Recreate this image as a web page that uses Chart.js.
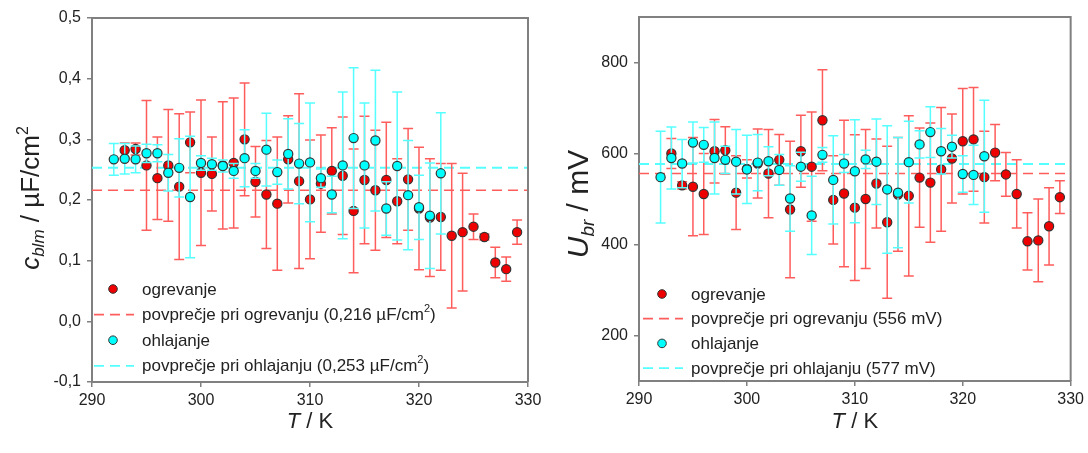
<!DOCTYPE html>
<html lang="sl">
<head>
  <meta charset="UTF-8">
  <title>ogrevanje / ohlajanje</title>
  <script src="https://cdn.jsdelivr.net/npm/chart.js"></script>
  <style>
    body { margin: 0; background: #fff; }
    #wrap { position: relative; width: 1088px; height: 453px; }
    canvas { position: absolute; top: 0; }
  </style>
</head>
<body>
  <div id="wrap">
    <canvas id="cChart" width="560" height="453" style="left:0"></canvas>
    <canvas id="uChart" width="528" height="453" style="left:560px"></canvas>
  </div>

  <script>
    // temperature (K)
    const heatT = [293, 294, 295, 296, 297, 298, 299, 300, 301, 302, 303, 304, 305, 306, 307, 308, 309, 310, 311,
                   312, 313, 314, 315, 316, 317, 318, 319, 320, 321, 322, 323, 324, 325, 326, 327, 328, 329];
    const coolT = [292, 293, 294, 295, 296, 297, 298, 299, 300, 301, 302, 303, 304, 305, 306, 307, 308, 309, 310,
                   311, 312, 313, 314, 315, 316, 317, 318, 319, 320, 321, 322];

    // c_blm (uF/cm2)
    const cHeat = [0.282, 0.284, 0.257, 0.236, 0.257, 0.222, 0.295, 0.245, 0.243, 0.257, 0.261, 0.300, 0.230, 0.209,
                   0.194, 0.267, 0.231, 0.201, 0.227, 0.248, 0.240, 0.182, 0.233, 0.216, 0.233, 0.198, 0.234, 0.186,
                   0.171, 0.172, 0.141, 0.147, 0.156, 0.139, 0.097, 0.086, 0.147];
    const cHeatErr = [0.012, 0.010, 0.107, 0.068, 0.092, 0.120, 0.050, 0.120, 0.061, 0.105, 0.107, 0.093, 0.058, 0.089,
                      0.110, 0.072, 0.144, 0.098, 0.080, 0.071, 0.097, 0.102, 0.105, 0.099, 0.095, 0.070, 0.084, 0.101,
                      0.097, 0.088, 0.119, 0.097, 0.021, 0.005, 0.025, 0.020, 0.020];
    const cCool = [0.267, 0.268, 0.267, 0.277, 0.277, 0.245, 0.253, 0.205, 0.261, 0.259, 0.256, 0.248, 0.269, 0.248,
                   0.283, 0.246, 0.276, 0.260, 0.262, 0.236, 0.209, 0.257, 0.302, 0.257, 0.298, 0.186, 0.256, 0.208,
                   0.188, 0.174, 0.244];
    const cCoolErr = [0.026, 0.025, 0.022, 0.015, 0.014, 0.030, 0.048, 0.100, 0.012, 0.010, 0.010, 0.012, 0.047, 0.012,
                      0.060, 0.020, 0.058, 0.066, 0.098, 0.015, 0.030, 0.121, 0.116, 0.103, 0.116, 0.044, 0.122, 0.090,
                      0.053, 0.087, 0.100];
    const cMeanHeat = 0.216;
    const cMeanCool = 0.253;

    // U_br (mV)
    const uHeat = [600, 530, 527, 511, 605, 607, 514, 566, 578, 556, 586, 477, 605, 571, 673, 498, 512, 481, 500,
                   534, 449, 510, 507, 547, 536, 565, 589, 627, 631, 548, 602, 554, 511, 407, 409, 440, 504];
    const uHeatErr = [33, 8, 108, 89, 70, 52, 81, 20, 76, 97, 56, 150, 79, 120, 111, 97, 161, 160, 153,
                      98, 167, 125, 176, 109, 131, 136, 98, 116, 114, 101, 62, 48, 75, 63, 91, 85, 36];
    const uCool = [548, 590, 578, 624, 619, 590, 586, 582, 565, 580, 583, 564, 501, 571, 464, 597, 542, 578, 561,
                   587, 582, 521, 514, 581, 620, 647, 605, 615, 555, 553, 594];
    const uCoolErr = [101, 68, 53, 45, 38, 79, 30, 71, 75, 62, 32, 34, 72, 32, 86, 16, 97, 20, 113,
                      20, 94, 140, 121, 90, 30, 56, 50, 25, 40, 65, 123];
    const uMeanHeat = 556;
    const uMeanCool = 577;

    const xTicks = [290, 300, 310, 320, 330];
    const cTicks = [-0.1, 0.0, 0.1, 0.2, 0.3, 0.4, 0.5];
    const uTicks = [200, 400, 600, 800];

    const FONT = '"Liberation Sans", Arial, sans-serif';
    const RED = '#ee0000', RED_BAR = '#ff5c5c';
    const CYAN = '#00ffff', CYAN_BAR = '#55ffff';
    const GREY = '#808080';

    // error bars are drawn just before each scatter dataset
    const errorBars = {
      id: 'errorBars',
      beforeDatasetDraw(chart, args) {
        const ds = chart.data.datasets[args.index];
        if (!ds.yErr) return;
        const { ctx, scales: { x, y } } = chart;
        ctx.save();
        ctx.strokeStyle = ds.errColor;
        ctx.lineWidth = 1.5;
        ds.data.forEach((p, i) => {
          const px = x.getPixelForValue(p.x);
          const yt = y.getPixelForValue(p.y + ds.yErr[i]);
          const yb = y.getPixelForValue(p.y - ds.yErr[i]);
          ctx.beginPath();
          ctx.moveTo(px, yt); ctx.lineTo(px, yb);
          ctx.moveTo(px - 5, yt); ctx.lineTo(px + 5, yt);
          ctx.moveTo(px - 5, yb); ctx.lineTo(px + 5, yb);
          ctx.stroke();
        });
        ctx.restore();
      }
    };

    // text with italic / subscript / superscript pieces: [text, size, italic, dy]
    function richText(ctx, parts, x, y, align) {
      let w = 0;
      parts.forEach(p => {
        ctx.font = (p[2] ? 'italic ' : '') + p[1] + 'px ' + FONT;
        w += ctx.measureText(p[0]).width;
      });
      let cx = align === 'center' ? x - w / 2 : x;
      parts.forEach(p => {
        ctx.font = (p[2] ? 'italic ' : '') + p[1] + 'px ' + FONT;
        ctx.fillText(p[0], cx, y + (p[3] || 0));
        cx += ctx.measureText(p[0]).width;
      });
    }

    // box, axis titles and legend inside the plot
    const decorations = {
      id: 'decorations',
      afterDraw(chart, args, opts) {
        const { ctx, chartArea: a } = chart;
        ctx.save();
        ctx.strokeStyle = GREY;
        ctx.lineWidth = 2;
        ctx.beginPath();
        ctx.moveTo(a.left, a.top); ctx.lineTo(a.right, a.top); ctx.lineTo(a.right, a.bottom);
        ctx.stroke();

        ctx.fillStyle = '#222';
        ctx.textBaseline = 'alphabetic';
        richText(ctx, [['T', 22, true], [' / K', 22, false]], (a.left + a.right) / 2, 428, 'center');

        ctx.save();
        ctx.translate(opts.yTitleX, (a.top + a.bottom) / 2 + opts.yTitleDy);
        ctx.rotate(-Math.PI / 2);
        richText(ctx, opts.yTitle, 0, 0, 'center');
        ctx.restore();

        // legend
        const L = opts.legend;
        ctx.textBaseline = 'middle';
        const rows = [
          { kind: 'dot', color: RED, text: opts.legendTexts[0] },
          { kind: 'dash', color: RED_BAR, text: opts.legendTexts[1] },
          { kind: 'dot', color: CYAN, text: opts.legendTexts[2] },
          { kind: 'dash', color: CYAN_BAR, text: opts.legendTexts[3] }
        ];
        rows.forEach((r, i) => {
          const yy = L.y + i * L.gap;
          if (r.kind === 'dot') {
            ctx.beginPath();
            ctx.arc(L.x + 19, yy, 4.3, 0, Math.PI * 2);
            ctx.fillStyle = r.color;
            ctx.fill();
            ctx.strokeStyle = '#333';
            ctx.lineWidth = 1;
            ctx.stroke();
          } else {
            ctx.beginPath();
            ctx.setLineDash([10, 6]);
            ctx.strokeStyle = r.color;
            ctx.lineWidth = 1.8;
            ctx.moveTo(L.x, yy); ctx.lineTo(L.x + 40, yy);
            ctx.stroke();
            ctx.setLineDash([]);
          }
          ctx.fillStyle = '#222';
          richText(ctx, r.text, L.x + 48, yy + 1, 'left');
        });
        ctx.restore();
      }
    };

    function pts(xs, ys) {
      return xs.map((t, i) => ({ x: t, y: ys[i] }));
    }

    function meanLine(v, color, width) {
      return {
        type: 'line',
        data: [{ x: xTicks[0], y: v }, { x: xTicks[xTicks.length - 1], y: v }],
        borderColor: color,
        borderWidth: width,
        borderDash: [10, 6],
        pointRadius: 0,
        order: 3
      };
    }

    function makeChart(id, cfg) {
      return new Chart(document.getElementById(id), {
        type: 'scatter',
        data: {
          datasets: [
            meanLine(cfg.meanHeat, RED_BAR, 1.6),
            meanLine(cfg.meanCool, CYAN_BAR, 2),
            {
              data: pts(heatT, cfg.heat), yErr: cfg.heatErr, errColor: RED_BAR,
              pointRadius: 4.6, backgroundColor: RED, borderColor: '#333', borderWidth: 1.2, order: 1
            },
            {
              data: pts(coolT, cfg.cool), yErr: cfg.coolErr, errColor: CYAN_BAR,
              pointRadius: 4.6, backgroundColor: CYAN, borderColor: '#333', borderWidth: 1.2, order: 0
            }
          ]
        },
        options: {
          responsive: false,
          animation: false,
          layout: { padding: cfg.padding },
          plugins: {
            legend: { display: false },
            tooltip: { enabled: false },
            decorations: cfg.deco
          },
          scales: {
            x: {
              type: 'linear', min: xTicks[0], max: xTicks[xTicks.length - 1],
              afterBuildTicks: s => { s.ticks = xTicks.map(v => ({ value: v })); },
              afterFit: s => { s.height = cfg.xAxisH; },
              ticks: { color: '#222', padding: 4, font: { size: 16, family: FONT } },
              grid: { drawOnChartArea: false, tickLength: 5, color: GREY, lineWidth: 1.5 },
              border: { color: GREY, width: 2 }
            },
            y: {
              min: cfg.yMin, max: cfg.yMax,
              afterBuildTicks: s => { s.ticks = cfg.yTicks.map(v => ({ value: v })); },
              afterFit: s => { s.width = cfg.yAxisW; },
              ticks: { color: '#222', padding: 6, font: { size: 16, family: FONT }, callback: cfg.fmt },
              grid: { drawOnChartArea: false, tickLength: 5, color: GREY, lineWidth: 1.5 },
              border: { color: GREY, width: 2 }
            }
          }
        },
        plugins: [errorBars, decorations]
      });
    }

    makeChart('cChart', {
      heat: cHeat, heatErr: cHeatErr, cool: cCool, coolErr: cCoolErr,
      meanHeat: cMeanHeat, meanCool: cMeanCool,
      yMin: -0.1, yMax: 0.5, yTicks: cTicks,
      fmt: v => v.toFixed(1).replace('.', ','),
      padding: { top: 18, right: 32, left: 0, bottom: 0 },
      yAxisW: 92, xAxisH: 71,
      deco: {
        yTitleX: 39, yTitleDy: -2,
        yTitle: [['c', 26, true], ['blm', 17, true, 5], [' / \u00b5F/cm', 26, false], ['2', 16, false, -11]],
        legend: { x: 94, y: 289, gap: 25.6 },
        legendTexts: [
          [['ogrevanje', 17, false]],
          [['povpre\u010dje pri ogrevanju (0,216 \u00b5F/cm', 17, false], ['2', 11, false, -7], [')', 17, false]],
          [['ohlajanje', 17, false]],
          [['povpre\u010dje pri ohlajanju (0,253 \u00b5F/cm', 17, false], ['2', 11, false, -7], [')', 17, false]]
        ]
      }
    });

    makeChart('uChart', {
      heat: uHeat, heatErr: uHeatErr, cool: uCool, coolErr: uCoolErr,
      meanHeat: uMeanHeat, meanCool: uMeanCool,
      yMin: 100, yMax: 900, yTicks: uTicks,
      fmt: v => String(v),
      padding: { top: 17, right: 13, left: 0, bottom: 0 },
      yAxisW: 79, xAxisH: 72,
      deco: {
        yTitleX: 28, yTitleDy: 5,
        yTitle: [['U', 30, true], ['br', 19, true, 6], [' / mV', 30, false]],
        legend: { x: 83, y: 294, gap: 24.7 },
        legendTexts: [
          [['ogrevanje', 17, false]],
          [['povpre\u010dje pri ogrevanju (556 mV)', 17, false]],
          [['ohlajanje', 17, false]],
          [['povpre\u010dje pri ohlajanju (577 mV)', 17, false]]
        ]
      }
    });
  </script>
</body>
</html>
